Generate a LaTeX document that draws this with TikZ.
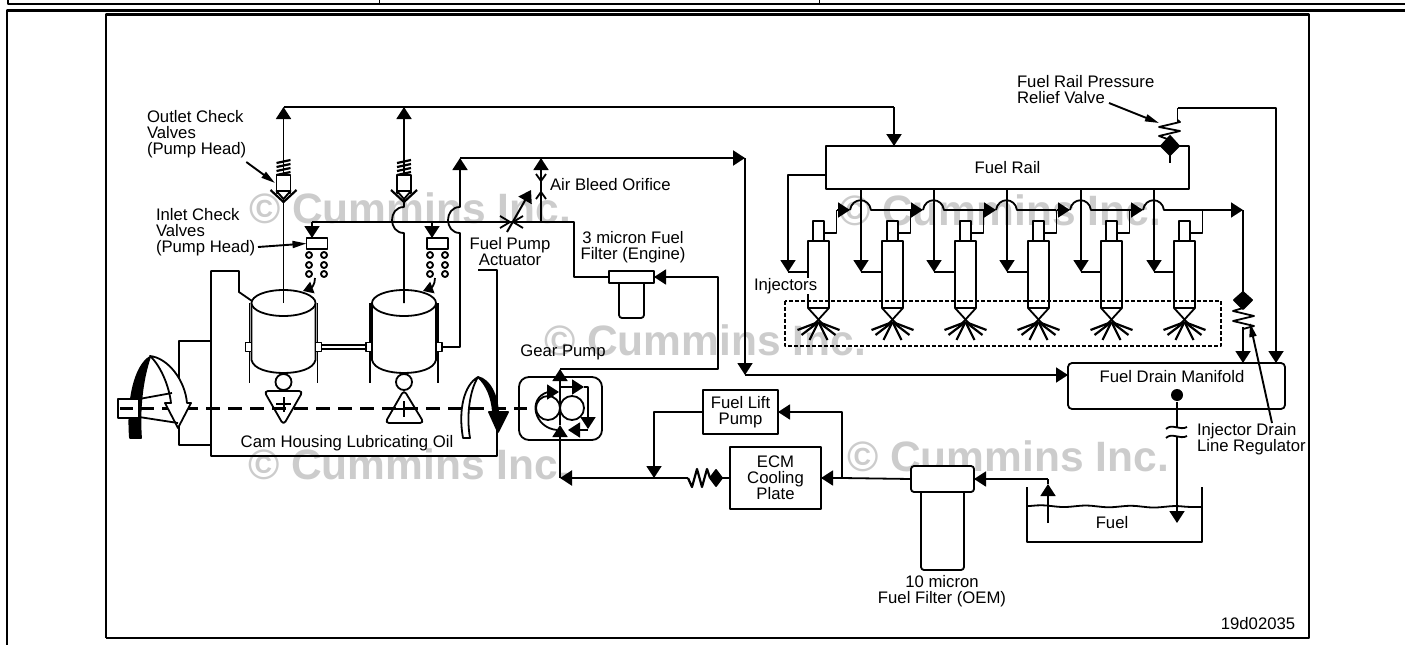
\documentclass[tikz,border=0pt]{standalone}
\usepackage{fontspec}
\setmainfont{Liberation Sans}
\usetikzlibrary{arrows.meta}
\usetikzlibrary{positioning}
\usetikzlibrary{decorations.pathmorphing}
\tikzset{
    tag/.style={inner sep=0pt, outer sep=0pt, font=\fontsize{16.7}{16}\selectfont, align=left},
    boxnode/.style={rectangle, draw=black, fill=white, line width=1.8pt, inner sep=0pt, outer sep=0pt, align=center, font=\fontsize{16.7}{16}\selectfont},
    mark text/.style={text=black!20, inner sep=0pt, font=\fontsize{42.5}{44}\selectfont\bfseries},
    smallhead/.style={-{Triangle[length=10pt, width=12pt]}},
    leader/.style={-{Triangle[length=14pt, width=7pt]}, line width=1.9pt},
}
\begin{document}
\begin{tikzpicture}[x=1pt, y=-1pt, line width=1.8pt, >={Triangle[length=12pt, width=15pt]}, line join=round]
    \useasboundingbox (0,0) rectangle (1405,645);

    % page frames
    \draw [line width=2.4pt] (8,0) -- (8,4) -- (1405,4);
    \draw [line width=1pt] (379,0) -- (379,4);
    \draw [line width=1pt] (819,0) -- (819,4);
    \draw [line width=2.4pt] (1405,10.5) -- (7,10.5) -- (7,645);
    \draw [line width=2.4pt] (106,638) -- (106,14.5) -- (1309,14.5) -- (1309,638) -- (106,638);

    % watermark
    \node [mark text] (mark1) at (410,208) {© Cummins Inc.};
    \node [mark text] (mark2) at (1000,210) {© Cummins Inc.};
    \node [mark text] (mark3) at (705,340) {© Cummins Inc.};
    \node [mark text] (mark4) at (409,464) {© Cummins Inc.};
    \node [mark text] (mark5) at (1008,456) {© Cummins Inc.};

    % cam housing
    \draw (252,301) -- (239,292) -- (239,271) -- (211,271) -- (211,456) -- (497,456) -- (497,270) -- (478,270);
    \draw (211,341) -- (179,341) -- (179,445) -- (211,445);

    % shaft
    \draw [line width=3pt, dash pattern=on 14pt off 8pt] (118,408) -- (533,408);

    % pump cylinders
    \foreach \name/\cx in {a/283.5, b/404} {
        \coordinate (cam\name) at (\cx,303);
        \draw [line width=1.2pt] (\cx-34,303) -- (\cx-34,383);
        \draw [line width=1.2pt] (\cx+34,303) -- (\cx+34,383);
        \draw [fill=white] (\cx-32,303) -- (\cx-32,360) .. controls (\cx-30,369) and (\cx-15,373) .. (\cx,373) .. controls (\cx+15,373) and (\cx+30,369) .. (\cx+32,360) -- (\cx+32,303);
        \draw [fill=white] (cam\name) ellipse [x radius=32pt, y radius=13pt];
        \node [draw, fill=white, line width=1.2pt, minimum width=6pt, minimum height=9pt, inner sep=0pt] (lug\name l) at (\cx-35,347) {};
        \node [draw, fill=white, line width=1.2pt, minimum width=6pt, minimum height=9pt, inner sep=0pt] (lug\name r) at (\cx+35,347) {};
        \node [draw, circle, fill=white, minimum size=16pt, inner sep=0pt] (roll\name) at (\cx,382) {};
    }
    \draw [line width=1.2pt] ([yshift=2pt]lugar.east) -- ([yshift=2pt]lugbl.west);
    \draw [line width=1.2pt] ([yshift=-2pt]lugar.east) -- ([yshift=-2pt]lugbl.west);

    % cam lobes
    \draw [rounded corners=4pt, fill=white] (264,391) -- (303,391) -- (283.5,425) -- cycle;
    \draw [rounded corners=4pt, fill=white] (404,390) -- (424,423) -- (385,423) -- cycle;
    \draw [line width=3pt, dash pattern=on 14pt off 8pt] (118,408) -- (533,408);
    \draw [line width=2pt] (276,404) -- (291,404);
    \draw [line width=2pt] (283.5,397) -- (283.5,412);
    \draw [line width=2pt] (396,409) -- (412,409);
    \draw [line width=2pt] (404,401) -- (404,417);

    % delivery lines
    \coordinate (topa) at (283.5,107);
    \coordinate (topb) at (404,107);
    \coordinate (railin) at (894,146);
    \coordinate (bleedtop) at (541,158);
    \coordinate (feedend) at (745,158);
    \draw [line width=2.2pt] (topa) -- (railin |- topa);
    \draw [->] (cama) -- (topa);
    \draw [->] (camb) -- (404,233) .. controls (388,233) and (388,207) .. (404,207) -- (topb);
    \draw [->, line width=2.2pt] (topb -| railin) -- (railin);
    \draw [->] (lugbr.east) -- (460,347) -- (460,233) .. controls (444,233) and (444,207) .. (460,207) -- (460,158);
    \draw [->, line width=2.2pt] (460,158) -- (feedend);

    % outlet and inlet valves
    \foreach \name/\cx in {a/283.5, b/404} {
        \draw [line width=2.2pt] (\cx-7,163) -- (\cx+7,160) (\cx-7,167) -- (\cx+7,164) (\cx-7,171) -- (\cx+7,168) (\cx-7,175) -- (\cx+7,172);
        \draw [fill=white] (\cx-7,175) rectangle (\cx+7,193);
        \draw [fill=white] (\cx-7,191) -- (\cx,199) -- (\cx+7,191) -- cycle;
        \draw [line width=2.2pt] (\cx-13,190) -- (\cx,202) -- (\cx+13,190);
    }
    \node [boxnode, minimum width=21pt, minimum height=11pt] (inleta) at (317,243.5) {};
    \node [boxnode, minimum width=21pt, minimum height=11pt] (inletb) at (437.5,243.5) {};
    \foreach \name/\cx in {a/309, b/430} {
        \foreach \cy in {255,265,274} {
            \draw [line width=1.9pt] (\cx,\cy) circle [radius=3pt];
            \draw [line width=1.9pt] (\cx+15,\cy) circle [radius=3pt];
        }
    }
    \draw [->, smallhead] (315,278) .. controls (315,285) and (311,288) .. (303,291);
    \draw [->, smallhead] (435,278) .. controls (435,285) and (431,288) .. (423,291);

    % filter feed line and air bleed
    \node [boxnode, minimum width=45pt, minimum height=12pt] (finehead) at (631.5,277) {};
    \draw (312,222) -- (574,222) -- (574,277) -- (finehead.west);
    \draw [smallhead, ->] (312,222) -- (inleta.north -| 312,0);
    \draw [smallhead, ->] (432,222) -- (inletb.north -| 432,0);
    \draw [rounded corners=3pt] (619,283) -- (619,318) -- (644,318) -- (644,283);
    \draw [->] (541,222) -- (541,192) (541,181) -- (bleedtop);
    \draw (536,174) -- (541,181) -- (546,174);
    \draw (541,181) -- (541,192);
    \draw (536,199) -- (541,192) -- (546,199);
    \draw (500,216) -- (510,222) -- (500,228);
    \draw (523,216) -- (513,222) -- (523,228);
    \draw [smallhead, ->, line width=2pt] (507,232) -- (531,190);

    % feed to rail side
    \draw [->] (feedend) -- (745,375);
    \node [boxnode, rounded corners=4pt, minimum width=217pt, minimum height=46pt] (drain) at (1176.5,386) {};
    \draw [->] (745,375) -- (drain.west |- 745,375);

    % fuel rail
    \node [boxnode, minimum width=363pt, minimum height=43pt] (rail) at (1007.5,167.5) {Fuel Rail};
    \draw [line width=2.6pt] (rail.north west) -- (rail.north east);
    \foreach \i/\bx in {1/788, 2/861, 3/934, 4/1007, 5/1081, 6/1154} {
        \coordinate (drop\i) at (\bx,272);
    }
    \draw [->] (rail.west |- 0,175) -- (drop1 |- 0,175) -- (drop1);
    \foreach \i in {2,...,6} {
        \draw [->] (drop\i |- rail.south) -- (drop\i);
    }

    % injectors
    \foreach \i/\cx in {1/818.5, 2/892.5, 3/965.5, 4/1038.5, 5/1111.5, 6/1184.5} {
        \node [boxnode, minimum width=21pt, minimum height=67pt] (body\i) at (\cx,274.5) {};
        \node [boxnode, minimum width=11pt, minimum height=20pt, above=0pt of body\i] (stub\i) {};
        \draw (drop\i) -- (drop\i -| body\i.west);
        \draw (body\i.south west) -- (\cx+6,326);
        \draw (body\i.south east) -- (\cx-6,326);
        \foreach \dx/\dy in {-21/8, -17/13, -9/18, 9/18, 17/13, 21/8} {
            \draw [line width=2.2pt] (\cx,322) -- ++(\dx,\dy);
        }
        \draw ([yshift=-2pt]stub\i.east) -- (\cx+18,233) -- (\cx+18,210);
    }

    % injector return line
    \foreach \bx in {861, 934, 1007, 1081, 1154} {
        \draw [->] (\bx-24,210) -- (\bx-11,210);
    }
    \foreach \bx in {861, 934, 1007, 1081} {
        \draw (\bx-11,210) .. controls (\bx-9,197) and (\bx+8,197) .. (\bx+10,210) -- (\bx+49,210);
    }
    \coordinate (retend) at (1243,210);
    \draw (1143,210) .. controls (1145,197) and (1162,197) .. (1164,210) -- (1232,210);
    \draw [->] (1164,210) -- (retend);

    % injector drain line regulator
    \coordinate (regtop) at (1243,301);
    \draw (retend) -- (regtop);
    \draw [->] (1243,327) -- (drain.north -| 1243,0);
    \draw [fill=black] (1243,292) -- (1252,300) -- (1243,309) -- (1234,300) -- cycle;
    \draw (1243,308) -- (1233,311) -- (1254,316) -- (1233,321) -- (1254,326) -- (1243,329);
    \draw [leader] (1272,423) -- (1250,323);

    % relief valve
    \coordinate (reliefout) at (1177.5,108);
    \draw [->] (reliefout) -- (1276,108) -- (1276,363);
    \draw (1177.5,122) -- (reliefout);
    \draw (1170,140) -- (1159,136) -- (1180,131) -- (1159,127) -- (1180,122) -- (1177.5,120);
    \draw [fill=black] (1170,136) -- (1179,146) -- (1170,155) -- (1161,146) -- cycle;
    \draw (1170,153) -- (1170,163);
    \draw [leader] (1109,103) -- (1159,123);

    % drain to tank
    \node [circle, fill=black, minimum size=12pt, inner sep=0pt] (dot) at (1177,395) {};
    \coordinate (tanktip) at (1177,523);
    \draw [->] (dot) -- (tanktip);
    \draw [fill=white, draw=white] (1168,428) rectangle (1186,436);
    \draw (1166,429) .. controls (1172,423) and (1180,431) .. (1187,427);
    \draw (1166,438) .. controls (1172,432) and (1180,440) .. (1187,436);
    \draw (1027,487) -- (1027,542) -- (1202,542) -- (1202,487);
    \draw [decorate, decoration={snake, segment length=45pt, amplitude=0.8pt}] (1027,506) -- (1202,507);

    % ten micron filter
    \node [boxnode, rounded corners=3pt, minimum width=63pt, minimum height=26pt] (coarsehead) at (942.5,479) {};
    \draw [rounded corners=3pt] (921,492) -- (921,570) -- (964,570) -- (964,492);
    \coordinate (suction) at (1048,479);
    \draw [->] (suction) -- (coarsehead.east);
    \draw [->] (1048,523) -- (1048,484);
    \draw (1048,484) -- (suction);

    % lift pump and cooling plate
    \node [boxnode, minimum width=75pt, minimum height=44pt] (lift) at (740.5,412) {Fuel Lift\\Pump};
    \node [boxnode, minimum width=91pt, minimum height=62pt] (ecm) at (775.5,478) {ECM\\Cooling\\Plate};
    \coordinate (branch) at (842,478);
    \coordinate (pumpin) at (560,478);
    \coordinate (tee) at (654,478);
    \draw (coarsehead.west) -- (branch);
    \draw [->] (branch) -- (ecm.east);
    \draw [->] (branch) -- (branch |- lift.east) -- (lift.east);
    \draw [->] (lift.west) -- (tee |- lift.west) -- (tee);
    \draw (ecm.west) -- (722,478);
    \draw [fill=black] (722,478) -- (716,470) -- (710,478) -- (716,486) -- cycle;
    \draw [line width=2.2pt] (710,478) -- (707,469) -- (702,487) -- (697,469) -- (692,487) -- (688,478);
    \draw [->, line width=2.2pt] (688,478) -- (pumpin);

    % gear pump
    \node [boxnode, rounded corners=10pt, minimum width=83pt, minimum height=63pt] (gearbox) at (560.5,408.5) {};
    \draw [line width=3pt, dash pattern=on 8pt off 8pt] (519,408) -- (534,408);
    \node [draw, circle, minimum size=24pt, inner sep=0pt] (gearl) at (548,408) {};
    \node [draw, circle, minimum size=24pt, inner sep=0pt] (gearr) at (572,408) {};
    \coordinate (gearout) at (560,369);
    \draw [->] (pumpin) -- (560,425);
    \draw [->] (560,425) -- (gearout);
    \draw [->] (gearout) -- (718,369) -- (718,277) -- (finehead.east);
    \draw [smallhead, ->] (560,387) -- (584,387);
    \draw (584,387) -- (588,387) -- (588,419);
    \draw [smallhead, ->] (588,419) -- (588,429);
    \draw [smallhead, ->] (588,430) -- (568,430);
    \draw [smallhead, ->] (557,430) .. controls (534,428) and (527,398) .. (548,392) -- (559,392);

    % driving arrows
    \draw [fill=black] (130,438) .. controls (127,400) and (135,366) .. (150,357) .. controls (142,380) and (139,410) .. (141,438) -- cycle;
    \draw [fill=white] (150,356) .. controls (168,358) and (185,380) .. (187,403) -- (191,403) -- (178,428) -- (165,403) -- (171,403) .. controls (169,385) and (160,365) .. (150,356) -- cycle;
    \draw (139,399) -- (172,393);
    \draw (139,417) -- (178,423);
    \node [draw, fill=white, minimum width=21pt, minimum height=19pt, inner sep=0pt] (stub) at (128.5,408.5) {};
    \draw [line width=3pt] (120,408) -- (133,408);
    \draw [fill=white] (463,438) .. controls (458,410) and (464,385) .. (478,377) .. controls (470,390) and (466,415) .. (470,438) -- cycle;
    \draw [fill=black] (478,377) .. controls (490,380) and (497,395) .. (498,412) -- (508,412) -- (498,432) -- (489,412) -- (493,412) .. controls (492,398) and (487,385) .. (478,377) -- cycle;

    % dashed box
    \draw [dash pattern=on 4pt off 2pt] (785,301) rectangle (1221,346);

    % tank and manifold labels
    \node [tag] (drainlabel) at (1172,377) {Fuel Drain Manifold};
    \node [tag] (tanklabel) at (1112,523) {Fuel};
    \node [tag, anchor=west] (reglabel) at (1197,439.5) {Injector Drain\\Line Regulator};
    \node [tag, align=center] (coarselabel) at (942,591) {10 micron\\Fuel Filter (OEM)};
    \node [tag] (figlabel) at (1258,624) {19d02035};

    % other labels
    \node [tag, anchor=west] (reliefl) at (1017,90) {Fuel Rail Pressure\\Relief Valve};
    \node [tag, anchor=west, fill=white, inner xsep=1pt] (injl) at (753,286) {Injectors};
    \node [tag, anchor=west] (outletl) at (147,134) {Outlet Check\\Valves\\(Pump Head)};
    \node [tag, anchor=west] (inletl) at (156,232) {Inlet Check\\Valves\\(Pump Head)};
    \node [tag, anchor=west] (bleedl) at (550,185) {Air Bleed Orifice};
    \node [tag, align=center] (actl) at (510,252) {Fuel Pump\\Actuator};
    \node [tag, align=center] (finel) at (633,247) {3 micron Fuel\\Filter (Engine)};
    \node [tag] (gearl2) at (563,352) {Gear Pump};
    \node [tag] (housel) at (347,443) {Cam Housing Lubricating Oil};
    \draw [leader] (outletl.east |- 248,162) -- (275,183);
    \draw [leader] (258,247) -- (inleta.west);
\end{tikzpicture}
\end{document}
